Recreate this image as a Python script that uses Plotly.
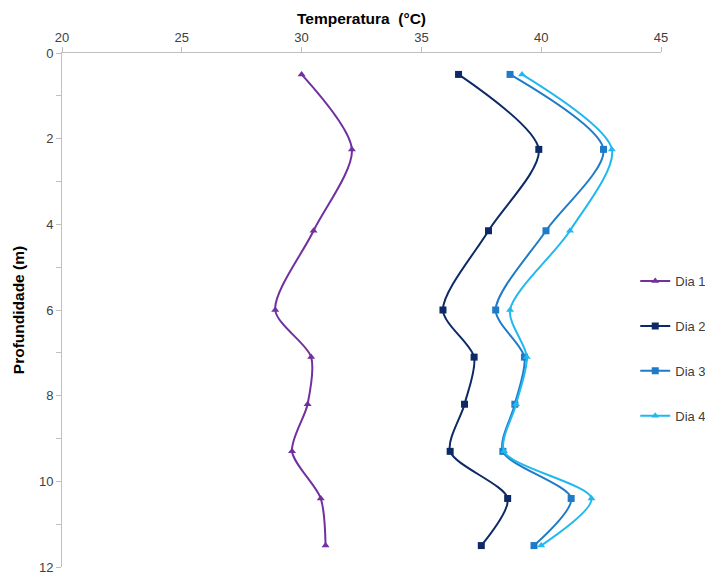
import plotly.graph_objects as go

depth = [0.5, 2.25, 4.15, 6.0, 7.1, 8.2, 9.3, 10.4, 11.5]
dia1 = [30.0, 32.1, 30.5, 28.9, 30.4, 30.25, 29.6, 30.8, 31.0]
dia2 = [36.55, 39.9, 37.8, 35.9, 37.2, 36.8, 36.2, 38.6, 37.5]
dia3 = [38.7, 42.6, 40.2, 38.1, 39.3, 38.9, 38.4, 41.25, 39.7]
dia4 = [39.2, 42.95, 41.2, 38.7, 39.4, 38.95, 38.45, 42.1, 40.0]

series = [
    ("Dia 1", dia1, "#7030A0", "triangle-up"),
    ("Dia 2", dia2, "#0C2A66", "square"),
    ("Dia 3", dia3, "#1F7BC8", "square"),
    ("Dia 4", dia4, "#21B8F0", "triangle-up"),
]

fig = go.Figure()
for i, (name, vals, col, sym) in enumerate(series):
    fig.add_trace(go.Scatter(
        x=vals, y=depth, name=name, mode="lines+markers",
        line=dict(color=col, width=2, shape="spline", smoothing=0.8),
        marker=dict(symbol=sym, size=7, color=col),
        legendgroup=f"g{i}",
    ))

axis_font = dict(family="Liberation Sans, Arial, sans-serif", size=13, color="#404040")
fig.update_layout(
    width=697, height=567,
    margin=dict(l=54, r=44, t=45, b=8, autoexpand=False),
    paper_bgcolor="white", plot_bgcolor="white",
    font=axis_font,
    showlegend=True,
    legend=dict(x=0.957, y=0.425, xanchor="left", yanchor="middle",
                font=dict(family="Liberation Sans, Arial, sans-serif", size=13, color="#404040"),
                tracegroupgap=25, bgcolor="rgba(0,0,0,0)"),
    xaxis=dict(side="top", range=[20, 45], tickvals=[20, 25, 30, 35, 40, 45], automargin=False,
               ticklabeloverflow="allow",
               showgrid=False, zeroline=False, showline=True, linecolor="#BFBFBF", linewidth=1,
               ticks="outside", tickcolor="#BFBFBF", ticklen=5,
               title=dict(text="<b>Temperatura  (°C)</b>", font=dict(size=15.5, color="#000000"), standoff=1)),
    yaxis=dict(range=[12, 0], tickvals=[0, 2, 4, 6, 8, 10, 12], automargin=False,
               ticklabeloverflow="allow",
               showgrid=False, zeroline=False, showline=True, linecolor="#BFBFBF", linewidth=1,
               ticks="outside", tickcolor="#BFBFBF", ticklen=5,
               minor=dict(dtick=1, tick0=0, ticks="outside", ticklen=5, tickcolor="#BFBFBF", showgrid=False),
               title=dict(text="<b>Profundidade (m)</b>", font=dict(size=15.5, color="#000000"), standoff=10)),
)

fig.write_html("out.html")
